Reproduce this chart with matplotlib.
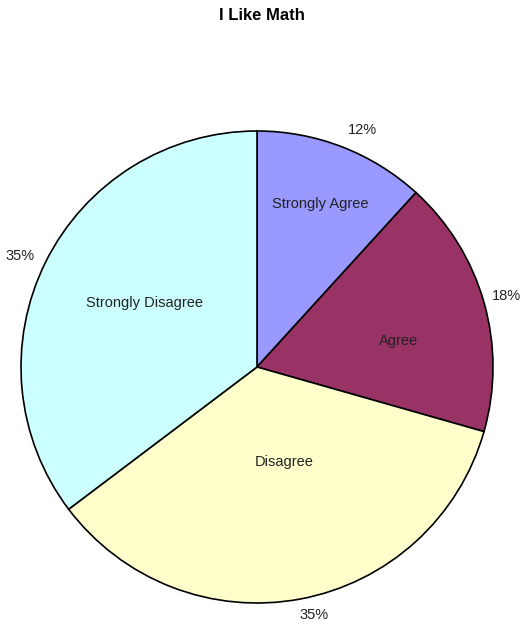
import numpy as np
import matplotlib
matplotlib.use("Agg")
import matplotlib.pyplot as plt

plt.rcParams['font.family'] = ['Liberation Sans', 'DejaVu Sans']

# Data (counts; shown as 12%, 18%, 35%, 35%)
categories = ["Strongly Agree", "Agree", "Disagree", "Strongly Disagree"]
counts = [4, 6, 12, 12]
colors = ["#9999FF", "#993366", "#FFFFCC", "#CCFFFF"]

# label placement tweaks: (fraction of radius, degrees off the wedge middle)
name_pos = [(0.74, 0), (0.61, -5.5), (0.42, 5.4), (0.55, -3.3)]
pct_pos = [(1.10, -2.8), (1.10, 0), (1.08, 2.4), (1.11, 1.4)]

W, H = 524, 627
fig = plt.figure(figsize=(W / 100, H / 100), dpi=100)

# pie centre (257, 367) px, radius 236 px
cx, cy, r = 257, 367, 236
ax = fig.add_axes([(cx - r) / W, (H - cy - r) / H, 2 * r / W, 2 * r / H])

wedges, _ = ax.pie(
    counts, colors=colors, startangle=90, counterclock=False,
    wedgeprops=dict(edgecolor='black', linewidth=1.2))
ax.set_xlim(-1, 1)
ax.set_ylim(-1, 1)
ax.set_aspect('equal')
ax.axis('off')

total = sum(counts)
for w, name, c, (nd, na), (pd, pa) in zip(wedges, categories, counts, name_pos, pct_pos):
    mid = (w.theta1 + w.theta2) / 2
    a = np.deg2rad(mid + na)
    ax.text(nd * np.cos(a), nd * np.sin(a), name, ha='center', va='center',
            fontsize=10.5, color='#222222')
    a = np.deg2rad(mid + pa)
    ax.text(pd * np.cos(a), pd * np.sin(a), f"{100 * c / total:.0f}%",
            ha='center', va='center', fontsize=10.5, color='#222222', clip_on=False)

fig.text(0.5, 1 - 15 / H, "I Like Math", ha='center', va='center',
         fontsize=12, fontweight='bold')

fig.savefig("out.png", dpi=100)
